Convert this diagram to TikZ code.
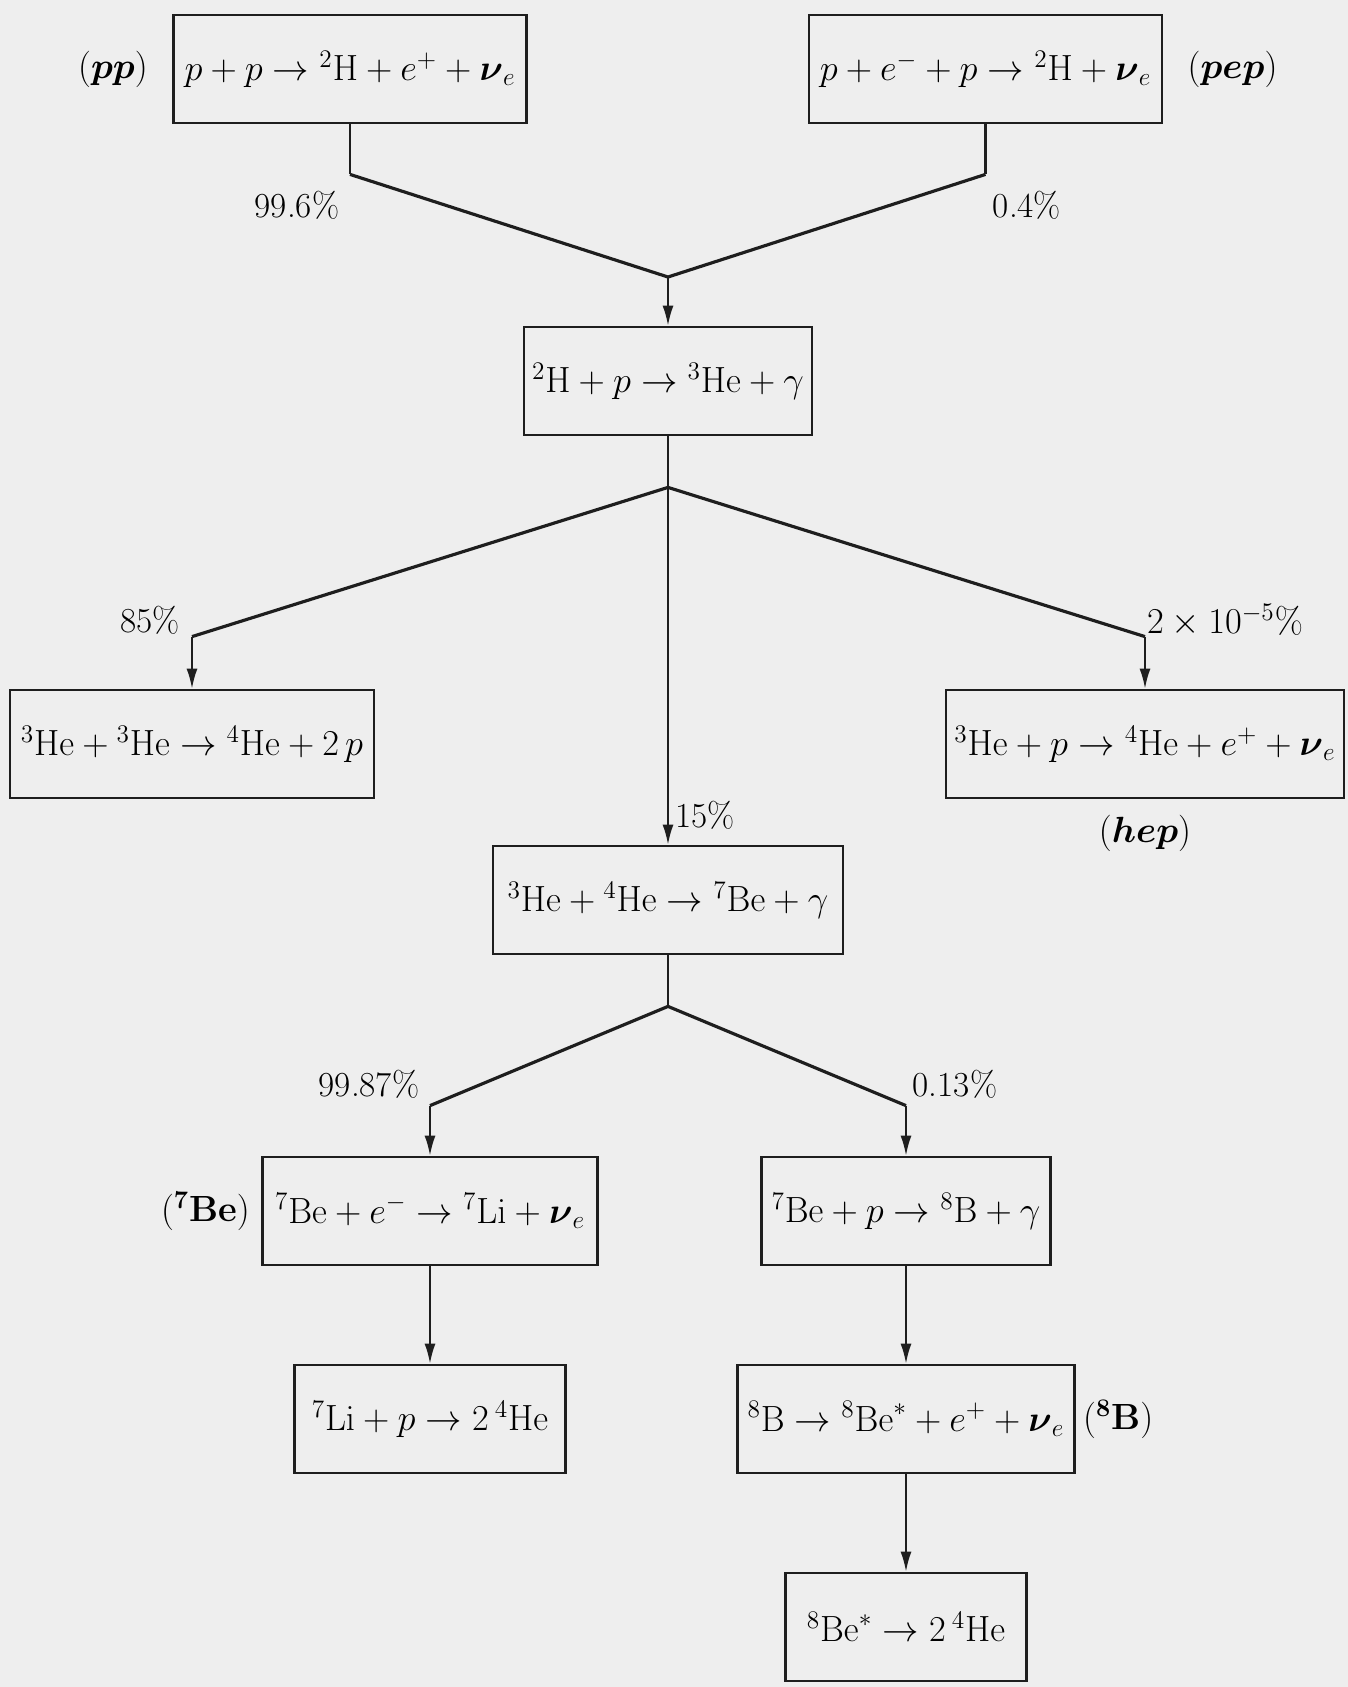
\documentclass[tikz,border=0pt]{standalone}
\usepackage{amsmath}
\usepackage{tikz}
\usetikzlibrary{positioning,arrows.meta}
\definecolor{cPaper}{HTML}{EEEEEE}
\definecolor{cInk}{HTML}{1E1E1E}
\tikzset{
  rxn/.style={draw=cInk,line width=1.6pt,minimum height=2.16cm,inner sep=0pt,font=\fontsize{20}{24}\selectfont},
  tag/.style={inner sep=0pt,font=\fontsize{20}{24}\selectfont},
  pct/.style={inner sep=0pt,font=\fontsize{20}{24}\selectfont},
  stub/.style={draw=cInk,line width=1.2pt},
  branch/.style={draw=cInk,line width=1.8pt,line join=miter},
  arr/.style={-{Latex[length=0.4cm,width=0.22cm]},draw=cInk,line width=1.1pt},
}

\begin{document}
\begin{tikzpicture}[x=0.02cm,y=-0.02cm]
  \fill[cPaper] (0,0) rectangle (1348,1687);
  \node[rxn,minimum width=7.06cm] (pp) at (350,69) {$p+p\to{}^2\mathrm{H}+e^+ +\boldsymbol{\nu}_e$};
  \node[rxn,minimum width=7.06cm] (pep) at (985.5,69) {$p+e^-+p\to{}^2\mathrm{H}+\boldsymbol{\nu}_e$};
  \node[rxn,minimum width=5.76cm] (dp) at (668,381) {${}^2\mathrm{H}+p\to{}^3\mathrm{He}+\gamma$};
  \node[rxn,minimum width=7.28cm] (hehe) at (192,744) {${}^3\mathrm{He}+{}^3\mathrm{He}\to{}^4\mathrm{He}+2\,p$};
  \node[rxn,minimum width=7.96cm] (hep) at (1145,744) {${}^3\mathrm{He}+p\to{}^4\mathrm{He}+e^+ +\boldsymbol{\nu}_e$};
  \node[rxn,minimum width=7.0cm] (hebe) at (668,900) {${}^3\mathrm{He}+{}^4\mathrm{He}\to{}^7\mathrm{Be}+\gamma$};
  \node[rxn,minimum width=6.7cm] (bee) at (430,1211) {${}^7\mathrm{Be}+e^-\to{}^7\mathrm{Li}+\boldsymbol{\nu}_e$};
  \node[rxn,minimum width=5.78cm] (bep) at (906,1211) {${}^7\mathrm{Be}+p\to{}^8\mathrm{B}+\gamma$};
  \node[rxn,minimum width=5.42cm] (lip) at (430,1419) {${}^7\mathrm{Li}+p\to2\,{}^4\mathrm{He}$};
  \node[rxn,minimum width=6.74cm] (bdec) at (906,1419) {${}^8\mathrm{B}\to{}^8\mathrm{Be}^*+e^+ +\boldsymbol{\nu}_e$};
  \node[rxn,minimum width=4.82cm] (bestar) at (906,1627) {${}^8\mathrm{Be}^*\to2\,{}^4\mathrm{He}$};

  \node[tag,left=0.48cm of pp] (tpp) {$(\boldsymbol{pp})$};
  \node[tag,right=0.48cm of pep] (tpep) {$(\boldsymbol{pep})$};
  \node[tag,below=0.3cm of hep] (thep) {$(\boldsymbol{hep})$};
  \node[tag,left=0.22cm of bee] (tbe) {$({}^{\mathbf{7}}\mathbf{Be})$};
  \node[tag,right=0.14cm of bdec] (tb) {$({}^{\mathbf{8}}\mathbf{B})$};

  \node[pct] (p1) at (297,205) {99.6\%};
  \node[pct] (p2) at (1027,205) {0.4\%};
  \node[pct] (p3) at (150,620) {85\%};
  \node[pct] (p4) at (1225,620) {$2\times10^{-5}\%$};
  \node[pct,anchor=west] (p5) at (675,815) {15\%};
  \node[pct] (p6) at (369,1084) {99.87\%};
  \node[pct] (p7) at (955,1084) {0.13\%};

  \coordinate (m1) at (668,277);
  \draw[stub] (pp.south) -- ++(0,50) coordinate (a1);
  \draw[stub] (pep.south) -- ++(0,50) coordinate (a2);
  \draw[branch] (a1) -- (m1) -- (a2);
  \draw[arr] (m1) -- (dp.north);

  \draw[stub] (dp.south) -- ++(0,51) coordinate (m2);
  \path (hehe.north) ++(0,-52) coordinate (b1);
  \path (hep.north) ++(0,-52) coordinate (b2);
  \draw[branch] (b1) -- (m2) -- (b2);
  \draw[arr] (b1) -- (hehe.north);
  \draw[arr] (b2) -- (hep.north);
  \draw[arr] (m2) -- (hebe.north);

  \draw[stub] (hebe.south) -- ++(0,51) coordinate (m3);
  \path (bee.north) ++(0,-50) coordinate (b3);
  \path (bep.north) ++(0,-50) coordinate (b4);
  \draw[branch] (b3) -- (m3) -- (b4);
  \draw[arr] (b3) -- (bee.north);
  \draw[arr] (b4) -- (bep.north);
  \draw[arr] (bee.south) -- (lip.north);
  \draw[arr] (bep.south) -- (bdec.north);
  \draw[arr] (bdec.south) -- (bestar.north);
\end{tikzpicture}
\end{document}
